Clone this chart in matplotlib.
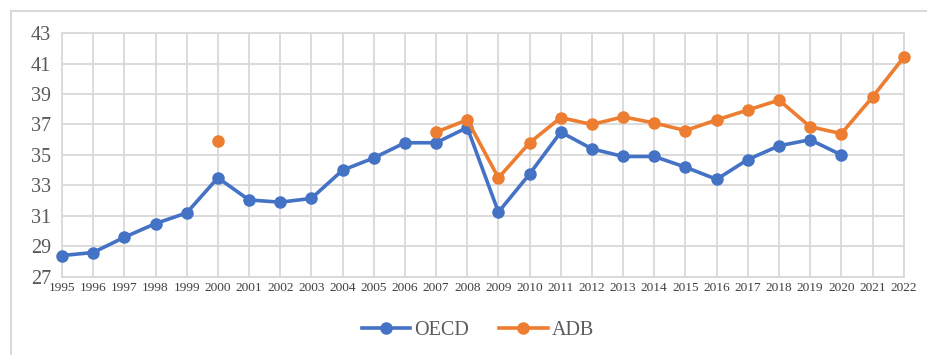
import matplotlib
matplotlib.use('Agg')
import matplotlib.pyplot as plt
from matplotlib.lines import Line2D
import numpy as np

# Data
years = list(range(1995, 2023))
oecd = [28.4, 28.6, 29.6, 30.5, 31.2, 33.5, 32.05, 31.9, 32.15, 34.0,
        34.8, 35.8, 35.8, 36.8, 31.25, 33.75, 36.5, 35.4, 34.9, 34.9,
        34.2, 33.4, 34.7, 35.6, 36.0, 35.0, np.nan, np.nan]
adb = [np.nan, np.nan, np.nan, np.nan, np.nan, 35.9, np.nan, np.nan, np.nan, np.nan,
       np.nan, np.nan, 36.5, 37.3, 33.5, 35.8, 37.45, 37.0, 37.5, 37.1,
       36.6, 37.3, 37.95, 38.6, 36.85, 36.4, 38.8, 41.4]
yticks = [27, 29, 31, 33, 35, 37, 39, 41, 43]

plt.rcParams['font.family'] = ['Liberation Serif', 'DejaVu Serif']

fig = plt.figure(figsize=(9.28, 3.55), dpi=100)
ax = fig.add_axes([0.0668, 0.22, 0.907, 0.687])

ax.plot(years, oecd, color='#4472C4', lw=2.6, marker='o', ms=8, clip_on=False,
        label='OECD', zorder=3)
ax.plot(years, adb, color='#ED7D31', lw=2.6, marker='o', ms=8, clip_on=False,
        label='ADB', zorder=4)

ax.set_xlim(1995, 2022)
ax.set_ylim(27, 43)
ax.set_xticks(years)
ax.set_xticklabels([str(y) for y in years], fontsize=9.6, color='#404040')
ax.set_yticks(yticks)
ax.set_yticklabels([str(v) for v in yticks], fontsize=14.5, color='#595959')
ax.tick_params(length=0, pad=4)
ax.tick_params(axis='y', pad=8)

ax.grid(True, color='#d9d9d9', lw=1.3)
ax.set_axisbelow(True)
for s in ax.spines.values():
    s.set_color('#d9d9d9')
    s.set_linewidth(1.3)

ax.legend(loc='center', bbox_to_anchor=(0.515, 0.07), bbox_transform=fig.transFigure,
          ncol=2, frameon=False, fontsize=14.5, labelcolor='#595959',
          handlelength=2.4, columnspacing=1.5, handletextpad=0.2)

# light frame on left and top, like the source image
fig.add_artist(Line2D([0.012, 0.012], [0.0, 0.969], transform=fig.transFigure,
                      color='#d9d9d9', lw=1.5))
fig.add_artist(Line2D([0.012, 1.0], [0.969, 0.969], transform=fig.transFigure,
                      color='#d9d9d9', lw=1.5))

fig.savefig('out.png', dpi=100)
